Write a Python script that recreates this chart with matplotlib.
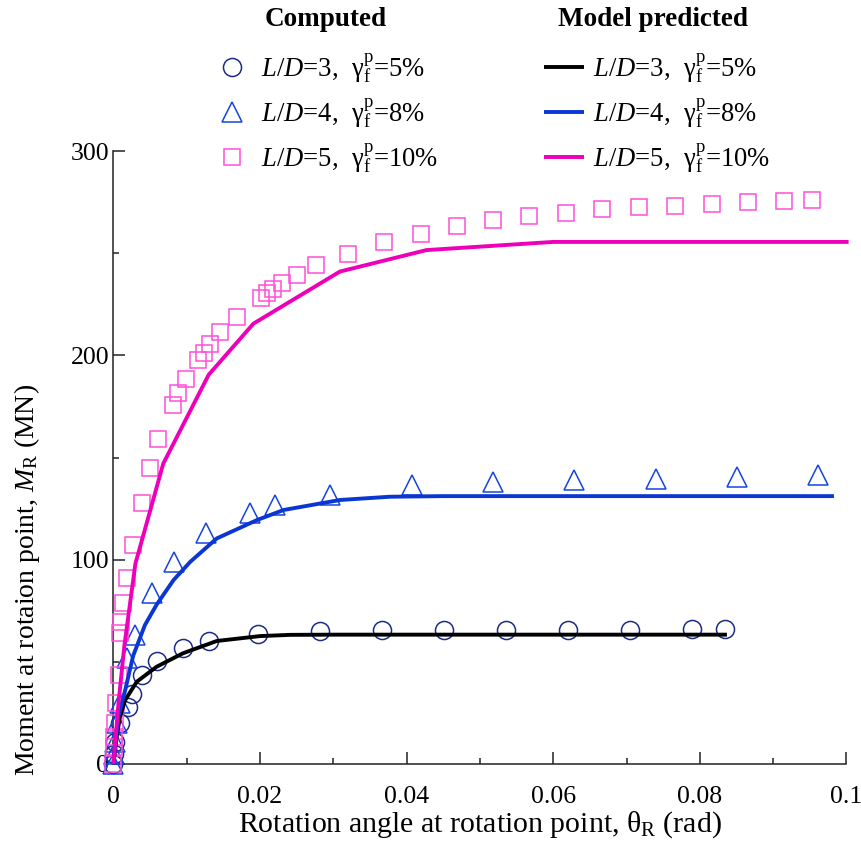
import matplotlib
matplotlib.use("Agg")
import matplotlib.pyplot as plt
from matplotlib.ticker import MultipleLocator

plt.rcParams["font.family"] = ["Liberation Serif", "DejaVu Serif"]
plt.rcParams["mathtext.fontset"] = "custom"
plt.rcParams["mathtext.rm"] = "Liberation Serif"
plt.rcParams["mathtext.it"] = "Liberation Serif:italic"
plt.rcParams["mathtext.bf"] = "Liberation Serif:bold"

# ---- computed results (rotation angle in rad, moment in MN) ----
comp_x_ld3 = [0, 0.0001, 0.0002, 0.0009, 0.0020, 0.0025, 0.0039, 0.0059, 0.0095,
              0.0130, 0.0197, 0.0282, 0.0366, 0.0451, 0.0535, 0.0620, 0.0705,
              0.0789, 0.0834]
comp_y_ld3 = [0, 5, 11, 20, 28, 34.5, 43.5, 50.5, 57, 60, 63.8, 65.2, 65.4, 65.5,
              65.6, 65.7, 65.8, 65.9, 66.0]

comp_x_ld4 = [0, 0.0001, 0.0002, 0.00045, 0.0009, 0.0018, 0.0029, 0.0052, 0.0082,
              0.0127, 0.0186, 0.0220, 0.0295, 0.0407, 0.0518, 0.0628, 0.0740,
              0.0851, 0.0961]
comp_y_ld4 = [0, 5, 11, 20, 29.7, 52, 63, 83.5, 99, 112.9, 122.7, 126.7, 131.6,
              136.5, 138, 139, 139.4, 140.4, 141.4]

comp_x_ld5 = [0, 0.00005, 0.0001, 0.0002, 0.0004, 0.0007, 0.0009, 0.0011, 0.00135,
              0.0018, 0.00263, 0.00386, 0.0050, 0.0061, 0.0081, 0.00885, 0.0099,
              0.0116, 0.0123, 0.0132, 0.0146, 0.0168, 0.0201, 0.0209, 0.0218,
              0.0230, 0.0250, 0.0277, 0.0320, 0.0369, 0.0419, 0.0469, 0.0518,
              0.0567, 0.0617, 0.0666, 0.0717, 0.0766, 0.0816, 0.0866, 0.0915,
              0.0953]
comp_y_ld5 = [0, 8.5, 13.4, 20, 29.7, 43.5, 64, 69.6, 78.6, 90.8, 107.1, 127.8,
              145, 159, 175.6, 181.4, 188.2, 197.7, 200.9, 205.5, 211.2, 218.8,
              228.3, 230.6, 232.4, 235.2, 239.2, 244.1, 249.8, 255.5, 259.6,
              263.2, 266.1, 268.1, 269.7, 271.4, 272.4, 273.3, 274.1, 274.8,
              275.4, 275.9]

# ---- model predictions ----
model_x_ld3 = [0, 0.00045, 0.0009, 0.0016, 0.0032, 0.0059, 0.0095, 0.0141, 0.0200,
               0.0241, 0.0300, 0.0837]
model_y_ld3 = [0, 13.4, 23.1, 31.3, 40.3, 47.6, 54.2, 60.2, 62.6, 63.2, 63.3, 63.3]

model_x_ld4 = [0, 0.00067, 0.0016, 0.0027, 0.0043, 0.0059, 0.0082, 0.0105, 0.0141,
               0.0196, 0.0232, 0.0309, 0.0377, 0.0450, 0.0983]
model_y_ld4 = [0, 23, 36, 53, 68, 78, 90, 99, 110.4, 119.4, 124.3, 129.2, 130.8,
               131.1, 131.1]

model_x_ld5 = [0, 0.0007, 0.0015, 0.0030, 0.0068, 0.0130, 0.0191, 0.0309, 0.0427,
               0.0600, 0.1003]
model_y_ld5 = [0, 30, 58, 98, 147, 190.5, 215.5, 241, 251.5, 255.5, 255.5]

labels = [r"$L/D$=3,  $\mathrm{\gamma}_\mathrm{f}^\mathrm{p}$=5%",
          r"$L/D$=4,  $\mathrm{\gamma}_\mathrm{f}^\mathrm{p}$=8%",
          r"$L/D$=5,  $\mathrm{\gamma}_\mathrm{f}^\mathrm{p}$=10%"]

x_ticks = [0, 0.02, 0.04, 0.06, 0.08, 0.1]
x_ticklabels = ["0", "0.02", "0.04", "0.06", "0.08", "0.1"]

c_circ = "#1c2b86"
c_tri = "#1444e0"
c_sq = "#ff50d8"
c_line3 = "#000000"
c_line4 = "#0a36d2"
c_line5 = "#ee00bb"

W, H = 862, 860
fig = plt.figure(figsize=(W / 100, H / 100), dpi=100)
ax = fig.add_axes([113.4 / W, (H - 764) / H, (846.4 - 113.4) / W, (764 - 151) / H])

mkw = dict(linestyle="none", markerfacecolor="none", markeredgewidth=1.1,
           clip_on=False, zorder=3)
h_c3, = ax.plot(comp_x_ld3, comp_y_ld3, marker="o", markersize=13,
                markeredgecolor=c_circ, **mkw)
h_c4, = ax.plot(comp_x_ld4, comp_y_ld4, marker="^", markersize=15,
                markeredgecolor=c_tri, **mkw)
h_c5, = ax.plot(comp_x_ld5, comp_y_ld5, marker="s", markersize=11.5,
                markeredgecolor=c_sq, **mkw)

lkw = dict(linewidth=2.8, clip_on=False, zorder=4, solid_capstyle="butt")
h_m3, = ax.plot(model_x_ld3, model_y_ld3, color=c_line3, **lkw)
h_m4, = ax.plot(model_x_ld4, model_y_ld4, color=c_line4, **lkw)
h_m5, = ax.plot(model_x_ld5, model_y_ld5, color=c_line5, **lkw)

ax.set_xlim(0, 0.1)
ax.set_ylim(0, 300)
ax.set_xticks(x_ticks)
ax.set_xticklabels(x_ticklabels)
ax.xaxis.set_minor_locator(MultipleLocator(0.01))
ax.yaxis.set_major_locator(MultipleLocator(100))
ax.yaxis.set_minor_locator(MultipleLocator(50))

for s in ("top", "right"):
    ax.spines[s].set_visible(False)
for s in ("left", "bottom"):
    ax.spines[s].set_linewidth(1.1)
    ax.spines[s].set_color("#222222")

ax.tick_params(which="major", direction="in", length=8.6, width=1.1,
               labelsize=18.5, color="#222222")
ax.tick_params(which="minor", direction="in", length=4.3, width=1.1,
               color="#222222")
ax.tick_params(axis="x", which="major", pad=16)
ax.tick_params(axis="y", which="major", pad=3)

ax.set_xlabel(r"Rotation angle at rotation point, $\mathrm{\theta}_\mathrm{R}$ (rad)",
              fontsize=21.5, labelpad=1)
ax.set_ylabel(r"Moment at rotaion point, $M_\mathrm{R}$ (MN)", fontsize=20)
ax.yaxis.set_label_coords(-0.097, 0.30)

# legend: computed markers and model lines in two columns
fig.text(326 / W, 1 - 19 / H, "Computed", fontsize=19.5, fontweight="bold",
         ha="center", va="center")
fig.text(653 / W, 1 - 19 / H, "Model predicted", fontsize=19.5, fontweight="bold",
         ha="center", va="center")

leg1 = fig.legend([h_c3, h_c4, h_c5], labels, loc="upper left",
                  bbox_to_anchor=(216 / W, 1 - 51 / H), frameon=False,
                  fontsize=19.2, handlelength=1.2, handletextpad=0.5,
                  labelspacing=0.42, borderpad=0, borderaxespad=0)
leg2 = fig.legend([h_m3, h_m4, h_m5], labels, loc="upper left",
                  bbox_to_anchor=(544 / W, 1 - 51 / H), frameon=False,
                  fontsize=19.2, handlelength=1.5, handletextpad=0.35,
                  labelspacing=0.42, borderpad=0, borderaxespad=0)

fig.savefig("out.png", dpi=100)
